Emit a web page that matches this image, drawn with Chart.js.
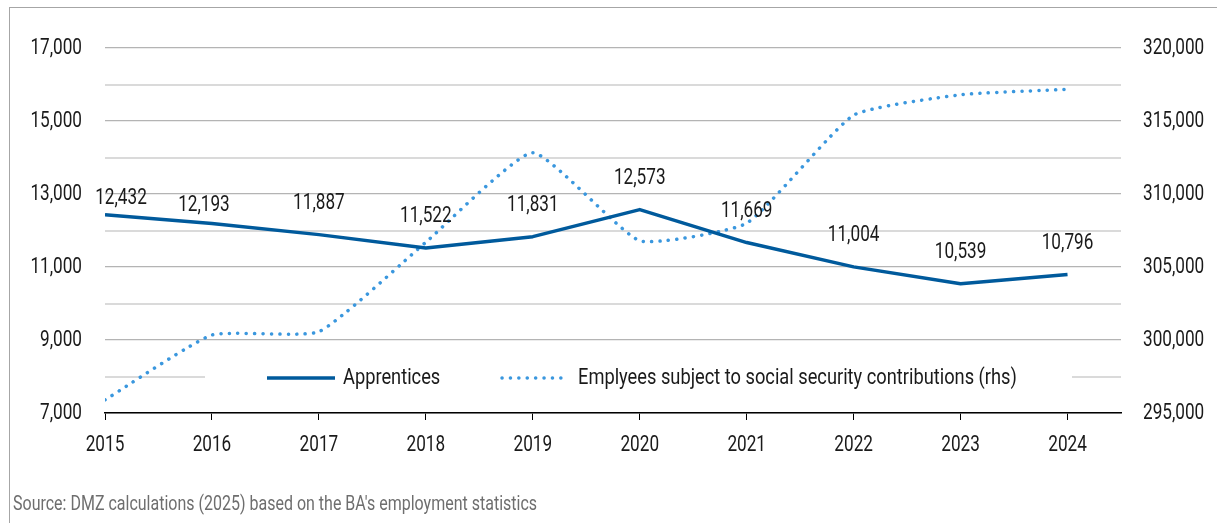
<!DOCTYPE html>
<html>
<head>
<meta charset="utf-8">
<script src="https://cdn.jsdelivr.net/npm/chart.js@4/dist/chart.umd.min.js"></script>
<style>
  html, body { margin: 0; padding: 0; background: #fff; overflow: hidden; }
  #wrap { position: relative; width: 1217px; height: 523px; }
  #frame { position: absolute; left: 9px; top: 7px; width: 1300px; height: 600px; border: 1px solid #a6a6a6; }
  #chart { position: absolute; left: 0; top: 0; }
  #source {
    position: absolute; left: 13px; top: 491px;
    font-family: Roboto, sans-serif;
    font-size: 20px; color: #6e6e6e; white-space: nowrap;
    transform: scaleX(0.80); transform-origin: left top;
  }
</style>
</head>
<body>
<div id="wrap">
  <div id="frame"></div>
  <canvas id="chart" width="1217" height="523"></canvas>
  <div id="source">Source: DMZ calculations (2025) based on the BA's employment statistics</div>
</div>
<script>
/* ================================
   DATA
   ================================ */
const years = [2015, 2016, 2017, 2018, 2019, 2020, 2021, 2022, 2023, 2024];
const apprentices = [12432, 12193, 11887, 11522, 11831, 12573, 11669, 11004, 10539, 10796];
const employees = [295900, 300340, 300570, 306700, 312830, 306800, 308000, 315400, 316800, 317170];
const leftTicks = [7000, 9000, 11000, 13000, 15000, 17000];
const rightTicks = [295000, 300000, 305000, 310000, 315000, 320000];

const FONT = "Roboto, sans-serif";
const FONT_SIZE = 22;
const SQUEEZE_NUM = 0.78;   // the original uses a condensed face
const SQUEEZE_TXT = 0.83;
const TEXT = "#1a1a1a";
const DARK = "#005a9c";
const LIGHT = "#3a97de";
const fmt = (v) => v.toLocaleString("en-US");

// draw horizontally condensed text
function squeezeText(ctx, text, x, y, align, sx) {
  ctx.save();
  ctx.translate(x, y);
  ctx.scale(sx || SQUEEZE_NUM, 1);
  ctx.textAlign = align;
  ctx.fillText(text, 0, 0);
  ctx.restore();
}

/**
 * Axis labels drawn with the condensed look
 */
const axisLabels = {
  id: "axisLabels",
  afterDraw(chart) {
    const { ctx, scales } = chart;
    ctx.save();
    ctx.font = FONT_SIZE + "px " + FONT;
    ctx.fillStyle = TEXT;
    ctx.textBaseline = "middle";
    leftTicks.forEach(v => squeezeText(ctx, fmt(v), 82, scales.y.getPixelForValue(v), "right"));
    rightTicks.forEach(v => squeezeText(ctx, fmt(v), 1143, scales.y2.getPixelForValue(v), "left"));
    years.forEach(v => squeezeText(ctx, String(v), scales.x.getPixelForValue(v), 445, "center"));
    ctx.restore();
  }
};

/**
 * Value labels above the apprentices line
 */
const valueLabels = {
  id: "valueLabels",
  afterDatasetsDraw(chart) {
    const { ctx } = chart;
    const meta = chart.getDatasetMeta(0);
    ctx.save();
    ctx.font = FONT_SIZE + "px " + FONT;
    ctx.fillStyle = TEXT;
    ctx.textBaseline = "middle";
    meta.data.forEach((pt, i) => {
      // first two labels sit closer to the line in the original
      let dx = 0, dy = 31;
      if (i === 0) { dx = 16; dy = 16; }
      if (i === 1) { dx = -8; dy = 18; }
      squeezeText(ctx, fmt(apprentices[i]), pt.x + dx, pt.y - dy, "center");
    });
    ctx.restore();
  }
};

/**
 * Legend drawn inside the plot area on a white box
 */
const innerLegend = {
  id: "innerLegend",
  beforeDatasetsDraw(chart) {
    const { ctx } = chart;
    const y = 378;
    ctx.save();
    ctx.fillStyle = "#fff";
    ctx.fillRect(205, y - 14, 867, 28);

    ctx.lineCap = "butt";
    ctx.strokeStyle = DARK;
    ctx.lineWidth = 3.5;
    ctx.beginPath();
    ctx.moveTo(267, y);
    ctx.lineTo(335, y);
    ctx.stroke();

    ctx.strokeStyle = LIGHT;
    ctx.lineCap = "round";
    ctx.setLineDash([0.1, 8.3]);
    ctx.beginPath();
    ctx.moveTo(502, y);
    ctx.lineTo(569, y);
    ctx.stroke();
    ctx.setLineDash([]);

    ctx.font = FONT_SIZE + "px " + FONT;
    ctx.fillStyle = TEXT;
    ctx.textBaseline = "middle";
    squeezeText(ctx, "Apprentices", 343, y, "left", SQUEEZE_TXT);
    squeezeText(ctx, "Emplyees subject to social security contributions (rhs)", 578, y, "left", SQUEEZE_TXT);
    ctx.restore();
  }
};

const ctx = document.getElementById("chart").getContext("2d");

new Chart(ctx, {
  type: "line",
  data: {
    datasets: [
      {
        label: "Apprentices",
        data: years.map((y, i) => ({ x: y, y: apprentices[i] })),
        yAxisID: "y",
        borderColor: DARK,
        borderWidth: 3.5,
        borderJoinStyle: "round",
        pointRadius: 0,
        tension: 0,
        order: 1
      },
      {
        label: "Emplyees subject to social security contributions (rhs)",
        data: years.map((y, i) => ({ x: y, y: employees[i] })),
        yAxisID: "y2",
        borderColor: LIGHT,
        borderWidth: 3.5,
        borderDash: [0.1, 8.3],
        borderCapStyle: "round",
        pointRadius: 0,
        tension: 0.15,
        order: 2
      }
    ]
  },
  options: {
    responsive: false,
    animation: false,
    layout: { padding: { top: 48, left: 0, right: 0, bottom: 0 } },
    plugins: {
      legend: { display: false },
      tooltip: { enabled: false }
    },
    scales: {
      x: {
        type: "linear",
        min: 2015,
        max: 2024.5,
        afterBuildTicks: (axis) => { axis.ticks = years.map(v => ({ value: v })); },
        afterFit: (axis) => { axis.height = 110; },
        grid: { drawOnChartArea: false, drawTicks: true, tickLength: 7, tickColor: "#000" },
        border: { display: true, color: "#000", width: 1.5 },
        ticks: { display: false }
      },
      y: {
        position: "left",
        min: 7000,
        max: 17000,
        afterBuildTicks: (axis) => {
          const t = [];
          for (let v = 7000; v <= 17000; v += 1000) t.push({ value: v });
          axis.ticks = t;
        },
        afterFit: (axis) => { axis.width = 105; },
        grid: {
          drawTicks: false,
          color: (c) => (leftTicks.includes(c.tick.value) ? "#b4b4b4" : "#dadada"),
          lineWidth: (c) => (leftTicks.includes(c.tick.value) ? 1.2 : 2)
        },
        border: { display: false },
        ticks: { display: false }
      },
      y2: {
        position: "right",
        min: 295000,
        max: 320000,
        afterBuildTicks: (axis) => { axis.ticks = rightTicks.map(v => ({ value: v })); },
        afterFit: (axis) => { axis.width = 96; },
        grid: { display: false, drawTicks: false },
        border: { display: false },
        ticks: { display: false }
      }
    }
  },
  plugins: [innerLegend, valueLabels, axisLabels]
});
</script>
</body>
</html>
